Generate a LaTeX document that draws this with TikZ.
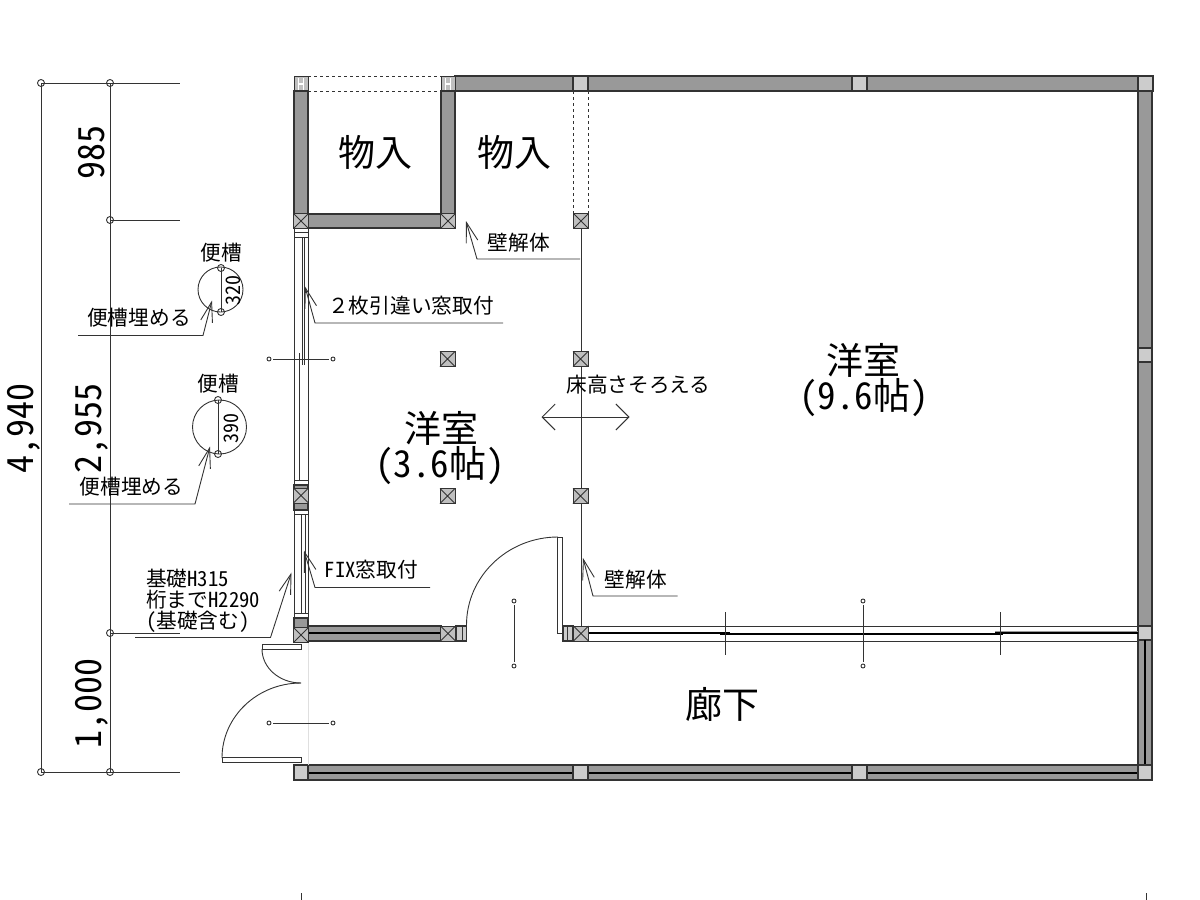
\documentclass[tikz,border=0pt]{standalone}
\usepackage{fontspec}
\setmainfont[RawFeature=+hwid]{Noto Sans CJK JP}
\newfontfamily\fullfont{Noto Sans CJK JP}
\usetikzlibrary{arrows.meta}
\definecolor{linecol}{gray}{0.2}
\definecolor{wallcol}{gray}{0.6}
\definecolor{pillarcol}{gray}{0.8}
\definecolor{postcol}{gray}{0.75}
\tikzset{
  thinline/.style={draw=linecol,line width=0.9pt},
  wall/.style={draw=linecol,fill=wallcol,line width=1.1pt},
  pillar/.style={draw=linecol,fill=pillarcol,line width=1.1pt},
  post/.style={draw=linecol,fill=postcol,line width=1pt},
  leader/.style={thinline,-{Straight Barb[length=20pt,width=12pt]}},
  bigtext/.style={inner sep=0pt,font=\fontsize{37}{37}\selectfont},
  dimtext/.style={inner sep=0pt,rotate=90,font=\fontsize{36}{36}\selectfont},
  smalltext/.style={inner sep=0pt,font=\fontsize{20.7}{20.7}\selectfont}
}
\newcommand{\crosspost}[2]{%
  \draw[post] (#1-7.5,#2-7.5) rectangle (#1+7.5,#2+7.5);
  \draw[thinline] (#1-7.5,#2-7.5) -- (#1+7.5,#2+7.5) (#1-7.5,#2+7.5) -- (#1+7.5,#2-7.5);}
\begin{document}
\begin{tikzpicture}[x=1pt,y=-1pt]
  \useasboundingbox (0,0) rectangle (1200,900);

  % Dimension lines on the left
  \draw[thinline] (41,83) -- (41,772);
  \draw[thinline] (110,83) -- (110,772);
  \draw[thinline] (41,83) -- (180,83);
  \draw[thinline] (110,220) -- (180,220);
  \draw[thinline] (110,633) -- (180,633);
  \draw[thinline] (41,772) -- (180,772);
  \foreach \x/\y in {41/83,110/83,110/220,110/633,41/772,110/772}
    \draw[thinline] (\x,\y) circle(3.5);
  \node[dimtext] (dimA) at (92,152) {985};
  \node[dimtext] (dimB) at (92,428) {2,955};
  \node[dimtext] (dimC) at (92,703) {1,000};
  \node[dimtext] (dimD) at (24,428) {4,940};

  % Top wall
  \draw[wall] (455,76) rectangle (1138,91);
  \foreach \x in {573,852,1138}
    \draw[pillar] (\x,76) rectangle (\x+15,91);
  \foreach \x in {294,441}
    \draw[post] (\x,76) rectangle (\x+14,91);
  \foreach \x in {301,448}
    \draw[white,line width=1.6pt] (\x-2.5,78) -- (\x-2.5,90) (\x+2.5,78) -- (\x+2.5,90) (\x-2.5,84) -- (\x+2.5,84);
  \draw[thinline,dashed] (308,76) -- (441,76) (308,91) -- (441,91);
  \draw[thinline,dashed] (573,91) -- (573,214) (588,91) -- (588,214);

  % Storage walls
  \draw[wall] (294,91) rectangle (308,214);
  \draw[wall] (441,91) rectangle (455,214);
  \draw[wall] (308,214) rectangle (441,228);
  \crosspost{301}{221}
  \crosspost{448}{221}
  \crosspost{581}{221}

  % Right wall
  \draw[wall] (1138,91) rectangle (1152,348);
  \draw[pillar] (1138,348) rectangle (1152,362);
  \draw[wall] (1138,362) rectangle (1152,626);
  \draw[pillar] (1138,626) rectangle (1152,640);
  \draw[wall] (1138,640) rectangle (1152,765);
  \draw[line width=1.4pt] (1145,640) -- (1145,765);

  % Bottom wall
  \draw[wall] (308,765) rectangle (1138,780);
  \draw[line width=1.4pt] (308,773) -- (1138,773);
  \foreach \x/\w in {294/14,573/15,852/15,1138/14}
    \draw[pillar] (\x,765) rectangle (\x+\w,780);

  % Left windows
  \draw[thinline] (294,228) -- (294,618) (308,228) -- (308,618);
  \draw[thinline] (294,232) -- (308,232) (294,237) -- (308,237);
  \draw[thinline] (302,237) -- (302,365) (304,237) -- (304,365);
  \draw[thinline] (299,353) -- (299,480) (294,480) -- (308,480);
  \draw[wall] (294,485) rectangle (308,510);
  \crosspost{301}{495.5}
  \draw[thinline] (294,514) -- (308,514);
  \draw[thinline] (301,514) -- (301,613) (305,514) -- (305,613) (294,613) -- (308,613);
  \draw[thinline] (273,359) -- (329,359);
  \foreach \x in {269,333}
    \draw[thinline] (\x,359) circle(2);

  % Wall by the entrance
  \draw[wall] (294,618) rectangle (308,628);
  \draw[wall] (308,626) rectangle (441,641);
  \draw[line width=1.4pt] (308,633) -- (441,633);
  \crosspost{301}{635}
  \crosspost{448}{633.5}
  \draw[pillar] (456,626) rectangle (466.5,641);
  \draw[thinline] (462,626) -- (462,641);

  % Room door
  \draw[thinline] (466.5,625) .. controls (466.5,576.4) and (507.7,537) .. (558,537);
  \draw[thinline] (557.5,537) rectangle (562.5,633);
  \draw[thinline] (514,605) -- (514,662);
  \foreach \y in {601,666}
    \draw[thinline] (514,\y) circle(2);

  % Corridor partition
  \draw[pillar] (563,626) rectangle (573,641);
  \draw[thinline] (567,626) -- (567,641);
  \draw[thinline] (581,228) -- (581,628);
  \draw[thinline] (588,626) -- (1138,626) (563,641) -- (1138,641);
  \draw[line width=1.4pt] (588,633) -- (730,633);
  \draw[line width=1.4pt] (720,634) -- (1003,634);
  \draw[line width=1.4pt] (995,633) -- (1138,633);
  \draw[wallcol,line width=1pt] (995,631.5) -- (1138,631.5);
  \crosspost{581}{633.5}
  \draw[thinline] (725,612) -- (725,655);
  \draw[thinline] (1000,612) -- (1000,655);
  \draw[thinline] (863,605) -- (863,662);
  \foreach \y in {601,666}
    \draw[thinline] (863,\y) circle(2);

  % Entrance doors
  \draw[gray!25,line width=0.6pt] (308,643) -- (308,765);
  \draw[thinline] (262,644) rectangle (301,649);
  \draw[thinline] (222,757.5) rectangle (301,762.5);
  \draw[thinline] (262,649) .. controls (262,667.8) and (279.5,683) .. (301,683);
  \draw[thinline] (222,758) .. controls (222,716.6) and (257.4,683) .. (301,683);
  \draw[thinline] (273,723) -- (329,723);
  \foreach \x in {269,333}
    \draw[thinline] (\x,723) circle(2);

  % Interior posts
  \foreach \x/\y in {447.5/359,447.5/496,580.5/359,580.5/496}
    {\crosspost{\x}{\y}}

  % Toilets
  \draw[thinline] (220.5,289.5) circle(22.5);
  \draw[thinline] (221,268) -- (221,312);
  \foreach \y in {268,312}
    \draw[thinline] (221,\y) circle(3.5);
  \draw[thinline] (219.5,427) circle(27);
  \draw[thinline] (218,400) -- (218,454);
  \foreach \y in {400,454}
    \draw[thinline] (218,\y) circle(3.5);

  % Leaders
  \draw[leader] (78,335.5) -- (203,335.5) -- (212,300.5);
  \draw[leader] (69,504) -- (195,504) -- (210,446.5);
  \draw[leader] (503,323) -- (315,323) -- (305,286.5);
  \draw[leader] (580,259) -- (477,259) -- (466,221);
  \draw[leader] (430,587.5) -- (315,587.5) -- (304,550.5);
  \draw[leader] (135,637.5) -- (270.5,637.5) -- (291.5,572.5);
  \draw[leader] (677.5,596) -- (593,596) -- (583,558);

  % Floor level arrow
  \draw[thinline,{Straight Barb[length=13pt,width=26pt]}-{Straight Barb[length=13pt,width=26pt]}] (541.5,417) -- (629.5,417);

  % Room names
  \node[bigtext] (storeA) at (375,152) {物入};
  \node[bigtext] (storeB) at (514.5,152) {物入};
  \node[bigtext] (roomA) at (441,428) {洋室};
  \node[bigtext] (roomAsize) at (440,466) {(3.6帖)};
  \node[bigtext] (roomB) at (863,360) {洋室};
  \node[bigtext] (roomBsize) at (864,398) {(9.6帖)};
  \node[bigtext] (hall) at (722.5,704) {廊下};

  % Notes
  \node[smalltext] (toiletA) at (221,253) {便槽};
  \node[smalltext] (toiletB) at (218,384) {便槽};
  \node[smalltext,rotate=90,font=\fontsize{20}{20}\selectfont] (sizeA) at (233,290) {320};
  \node[smalltext,rotate=90,font=\fontsize{20}{20}\selectfont] (sizeB) at (231,428) {390};
  \node[smalltext] (fillA) at (139,318) {便槽埋める};
  \node[smalltext] (fillB) at (131.5,487) {便槽埋める};
  \node[smalltext] (slide) at (411,306) {{\fullfont ２}枚引違い窓取付};
  \node[smalltext] (wallA) at (519,243) {壁解体};
  \node[smalltext] (wallB) at (636,580) {壁解体};
  \node[smalltext] (level) at (638.5,385) {床高さそろえる};
  \node[smalltext] (fix) at (371.5,570) {FIX窓取付};
  \node[smalltext,anchor=west] (baseA) at (146,579) {基礎H315};
  \node[smalltext,anchor=west] (baseB) at (146,600) {桁までH2290};
  \node[smalltext,anchor=west] (baseC) at (146,622) {(基礎含む)};

  % Ticks at the bottom
  \draw[thinline] (301,893) -- (301,900);
  \draw[thinline] (1146,893) -- (1146,900);
\end{tikzpicture}
\end{document}
